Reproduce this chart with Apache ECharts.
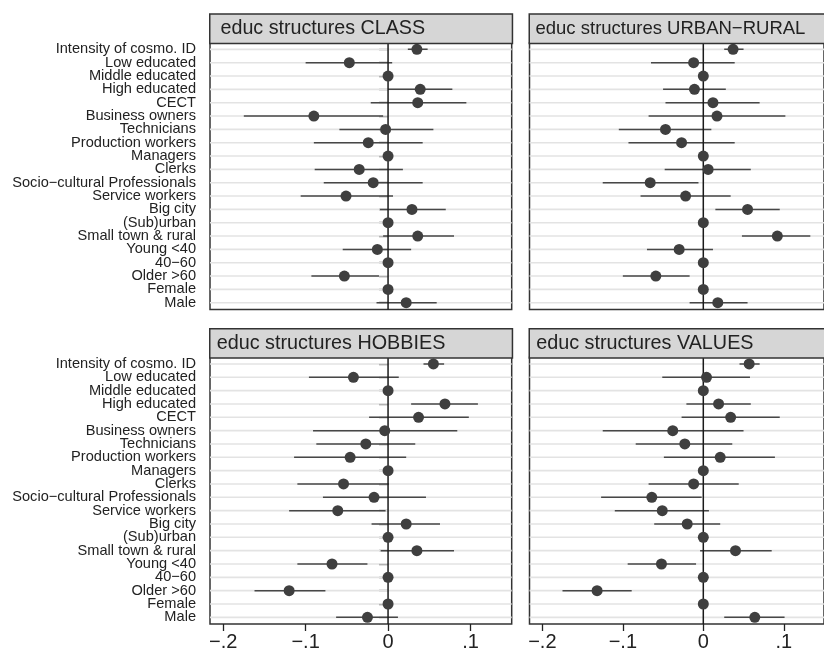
<!DOCTYPE html>
<html>
<head>
<meta charset="utf-8">
<script src="https://cdn.jsdelivr.net/npm/echarts@6/dist/echarts.min.js"></script>
<style>
html,body{margin:0;padding:0;background:#fff;}
#chart{width:824px;height:653px;}
</style>
</head>
<body>
<div id="chart"></div>
<script>
var categories = ['Intensity of cosmo. ID','Low educated','Middle educated','High educated','CECT','Business owners','Technicians','Production workers','Managers','Clerks','Socio\u2212cultural Professionals','Service workers','Big city','(Sub)urban','Small town & rural','Young <40','40\u221260','Older >60','Female','Male'];

var panelTitles = ['educ structures CLASS','educ structures URBAN\u2212RURAL','educ structures HOBBIES','educ structures VALUES'];

var xTickValues = [-0.2, -0.1, 0, 0.1];
var xTickLabels = ['\u2212.2', '\u2212.1', '0', '.1'];

var classEst = [0.035, -0.047, 0, 0.039, 0.036, -0.090, -0.003, -0.024, 0, -0.035, -0.018, -0.051, 0.029, 0, 0.036, -0.013, 0, -0.053, 0, 0.022];
var classLo  = [0.024, -0.100, null, 0.000, -0.021, -0.175, -0.059, -0.090, null, -0.089, -0.078, -0.106, -0.010, null, -0.006, -0.055, null, -0.093, null, -0.014];
var classHi  = [0.048, 0.005, null, 0.078, 0.095, -0.006, 0.055, 0.042, null, 0.018, 0.042, 0.006, 0.070, null, 0.080, 0.028, null, -0.011, null, 0.059];

var urbanEst = [0.037, -0.012, 0, -0.011, 0.012, 0.017, -0.047, -0.027, 0, 0.006, -0.066, -0.022, 0.055, 0, 0.092, -0.030, 0, -0.059, 0, 0.018];
var urbanLo  = [0.026, -0.065, null, -0.050, -0.047, -0.068, -0.105, -0.093, null, -0.048, -0.125, -0.078, 0.015, null, 0.048, -0.070, null, -0.100, null, -0.017];
var urbanHi  = [0.050, 0.039, null, 0.028, 0.070, 0.102, 0.010, 0.039, null, 0.059, -0.006, 0.034, 0.095, null, 0.133, 0.012, null, -0.017, null, 0.055];

var hobbiesEst = [0.055, -0.042, 0, 0.069, 0.037, -0.004, -0.027, -0.046, 0, -0.054, -0.017, -0.061, 0.022, 0, 0.035, -0.068, 0, -0.120, 0, -0.025];
var hobbiesLo  = [0.043, -0.096, null, 0.028, -0.023, -0.091, -0.087, -0.114, null, -0.110, -0.079, -0.120, -0.020, null, -0.009, -0.110, null, -0.162, null, -0.063];
var hobbiesHi  = [0.068, 0.013, null, 0.109, 0.098, 0.084, 0.033, 0.022, null, 0.001, 0.046, -0.003, 0.063, null, 0.080, -0.025, null, -0.076, null, 0.012];

var valuesEst = [0.057, 0.004, 0, 0.019, 0.034, -0.038, -0.023, 0.021, 0, -0.012, -0.064, -0.051, -0.020, 0, 0.040, -0.052, 0, -0.132, 0, 0.064];
var valuesLo  = [0.045, -0.051, null, -0.021, -0.027, -0.125, -0.084, -0.049, null, -0.068, -0.127, -0.110, -0.061, null, -0.004, -0.094, null, -0.175, null, 0.026];
var valuesHi  = [0.070, 0.058, null, 0.059, 0.095, 0.050, 0.036, 0.089, null, 0.044, -0.002, 0.007, 0.021, null, 0.085, -0.009, null, -0.089, null, 0.101];

var panels = [
  {est: classEst, lo: classLo, hi: classHi},
  {est: urbanEst, lo: urbanLo, hi: urbanHi},
  {est: hobbiesEst, lo: hobbiesLo, hi: hobbiesHi},
  {est: valuesEst, lo: valuesLo, hi: valuesHi}
];

var FONT = '"Liberation Sans", Arial, Helvetica, sans-serif';
var layout = [
  {left: 210, top: 42.7, tx: 10.5, fs: 19.7},
  {left: 529.5, top: 42.7, tx: 6, fs: 18.5},
  {left: 210, top: 357.3, tx: 6.7, fs: 19.8},
  {left: 529.5, top: 357.3, tx: 6.7, fs: 19.8}
];
var PW = 301.7, PH = 266.7, HH = 29.4;

var grids = [], xAxes = [], yAxes = [], series = [], graphics = [];
panels.forEach(function (p, i) {
  var L = layout[i];
  var isLeft = (i % 2 === 0), isBottom = i >= 2;
  grids.push({left: L.left, top: L.top, width: PW, height: PH, show: true,
    borderColor: '#333', borderWidth: 1.5, backgroundColor: '#fff', containLabel: false});
  xAxes.push({type: 'value', gridIndex: i, min: -0.216, max: 0.15,
    axisLine: {show: false}, splitLine: {show: false},
    axisTick: {show: isBottom, customValues: xTickValues, length: 7, lineStyle: {color: '#222', width: 1.3}},
    axisLabel: {show: isBottom, customValues: xTickValues, margin: 8, fontSize: 20, color: '#222', fontFamily: FONT,
      formatter: function (v) { var k = xTickValues.indexOf(Math.round(v * 1000) / 1000); return k >= 0 ? xTickLabels[k] : ''; }}
  });
  yAxes.push({type: 'category', gridIndex: i, data: categories, inverse: true,
    axisLine: {show: false}, splitLine: {show: false},
    axisTick: {show: isLeft, alignWithLabel: true, length: 9, lineStyle: {color: '#222', width: 1.3}},
    axisLabel: {show: isLeft, interval: 0, margin: 14, fontSize: 14.6, color: '#222', fontFamily: FONT}
  });
  var ciData = categories.map(function (c, k) { return [p.lo[k], p.hi[k], k]; });
  series.push({type: 'custom', xAxisIndex: i, yAxisIndex: i, z: 2, silent: true,
    encode: {x: [0, 1], y: 2}, data: ciData, clip: true,
    renderItem: function (params, api) {
      var cat = api.value(2);
      var y = api.coord([0, cat])[1];
      var cs = params.coordSys;
      var children = [{type: 'line', shape: {x1: cs.x, y1: y, x2: cs.x + cs.width, y2: y},
        style: {stroke: '#e3e3e3', lineWidth: 1.6}}];
      var lo = api.value(0), hi = api.value(1);
      if (!isNaN(lo) && !isNaN(hi)) {
        var p1 = api.coord([lo, cat]), p2 = api.coord([hi, cat]);
        children.push({type: 'line', shape: {x1: p1[0], y1: y, x2: p2[0], y2: y},
          style: {stroke: '#474747', lineWidth: 1.5}});
      }
      return {type: 'group', children: children};
    }
  });
  series.push({type: 'custom', xAxisIndex: i, yAxisIndex: i, z: 3, silent: true,
    data: [[0]], encode: {x: 0},
    renderItem: function (params, api) {
      var cs = params.coordSys;
      var x = api.coord([0, 0])[0];
      return {type: 'line', shape: {x1: x, y1: cs.y, x2: x, y2: cs.y + cs.height},
        style: {stroke: '#1a1a1a', lineWidth: 1.5}};
    }
  });
  series.push({type: 'scatter', xAxisIndex: i, yAxisIndex: i, z: 4, silent: true,
    symbol: 'circle', symbolSize: 11,
    itemStyle: {color: '#3f3f3f', opacity: 1},
    data: p.est.map(function (v, k) { return [v, k]; })
  });
  graphics.push({type: 'rect', left: L.left - 1, top: L.top - HH, z: 10,
    shape: {x: 0, y: 0, width: PW + 1, height: HH},
    style: {fill: '#d6d6d6', stroke: '#333', lineWidth: 1.5}});
  graphics.push({type: 'text', left: L.left + L.tx, top: L.top - HH + (29.4 - L.fs) / 2 + 0.5, z: 11,
    style: {text: panelTitles[i], fontSize: L.fs, fontFamily: FONT, fill: '#222'}});
});

var chart = echarts.init(document.getElementById('chart'), null, {renderer: 'canvas'});
chart.setOption({
  animation: false,
  backgroundColor: '#fff',
  grid: grids,
  xAxis: xAxes,
  yAxis: yAxes,
  series: series,
  graphic: graphics
});
</script>
</body>
</html>
